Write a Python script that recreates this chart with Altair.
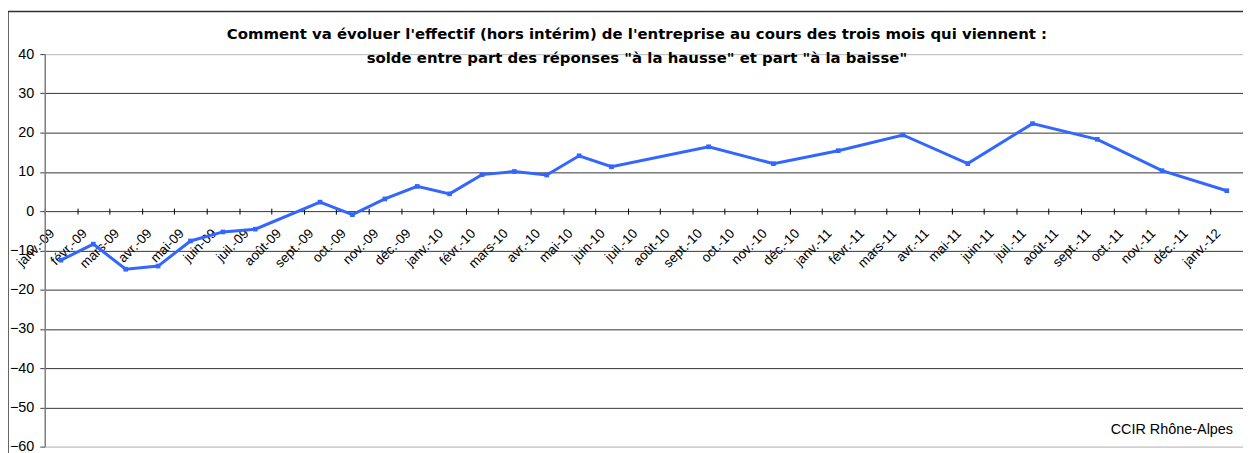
import altair as alt
import pandas as pd

months = [
    "janv.-09", "févr.-09", "mars-09", "avr.-09", "mai-09", "juin-09", "juil.-09", "août-09",
    "sept.-09", "oct.-09", "nov.-09", "déc.-09",
    "janv.-10", "févr.-10", "mars-10", "avr.-10", "mai-10", "juin-10", "juil.-10", "août-10",
    "sept.-10", "oct.-10", "nov.-10", "déc.-10",
    "janv.-11", "févr.-11", "mars-11", "avr.-11", "mai-11", "juin-11", "juil.-11", "août-11",
    "sept.-11", "oct.-11", "nov.-11", "déc.-11",
    "janv.-12",
]
solde = [
    -12.5, -8.4, -14.8, -14.0, -7.6, -5.3, -4.6, None,
    2.3, -0.9, 3.1, 6.3,
    4.4, 9.3, 10.1, 9.2, 14.1, 11.3, None, None,
    16.4, None, 12.1, None,
    15.4, None, 19.4, None, 12.1, None, 22.3, None,
    18.3, None, 10.3, None,
    5.2,
]
y_ticks = [-60, -50, -40, -30, -20, -10, 0, 10, 20, 30, 40]
title_lines = [
    "Comment va évoluer l'effectif  (hors intérim) de l'entreprise au cours des trois mois qui viennent :",
    "solde entre part des réponses \"à la hausse\" et part \"à la baisse\"",
]
source_text = ["CCIR Rhône-Alpes"]

W = 1206
H = 395
FONT = "Liberation Sans"
BLUE = "#3366FF"

df = pd.DataFrame({"mois": months, "solde": solde}).dropna()

x_enc = alt.X(
    "mois:N",
    sort=months,
    scale=alt.Scale(domain=months, paddingInner=0, paddingOuter=0),
    axis=alt.Axis(
        title=None,
        orient="bottom",
        offset=-240,
        domain=False,
        ticks=True,
        tickBand="extent",
        tickSize=6,
        tickColor="#000000",
        grid=False,
        labelAngle=-45,
        labelAlign="right",
        labelBaseline="middle",
        labelOffset=-9,
        labelPadding=17,
        labelFont=FONT,
        labelFontSize=13.5,
        labelColor="#000000",
        labelOverlap=False,
        labelFlush=False,
        labelBound=False,
    ),
)

y_enc = alt.Y(
    "solde:Q",
    scale=alt.Scale(domain=[-60, 40], nice=False, zero=False),
    axis=alt.Axis(
        title=None,
        values=y_ticks,
        domain=True,
        domainColor="#808080",
        domainWidth=1.5,
        ticks=True,
        tickSize=5,
        tickColor="#404040",
        labelFont=FONT,
        labelFontSize=14.5,
        labelColor="#000000",
        labelPadding=6,
        grid=True,
        gridColor=alt.condition(
            "datum.value == 40 || datum.value == -60",
            alt.value("#c0c0c0"),
            alt.value("#333333"),
        ),
        gridWidth=1,
    ),
)

line = alt.Chart(df).mark_line(
    color=BLUE,
    strokeWidth=3,
    point=alt.OverlayMarkDef(shape="square", size=22, filled=True, color=BLUE),
).encode(x=x_enc, y=y_enc)

one = pd.DataFrame({"t": source_text})

frame_left = alt.Chart(one).mark_rule(color="#303030", strokeWidth=1.5).encode(
    x=alt.value(-37), y=alt.value(-43), y2=alt.value(H + 10)
)
frame_top = alt.Chart(one).mark_rule(color="#303030", strokeWidth=1.5).encode(
    x=alt.value(-37), x2=alt.value(W + 10), y=alt.value(-43)
)
source = alt.Chart(one).mark_text(
    align="right", baseline="middle", font=FONT, fontSize=14.5, color="#000000"
).encode(x=alt.value(1196), y=alt.value(378), text="t:N")

chart = alt.layer(line, frame_left, frame_top, source).properties(
    width=W,
    height=H,
    title=alt.TitleParams(
        text=title_lines,
        font="DejaVu Sans",
        fontSize=15,
        fontWeight="bold",
        color="#000000",
        anchor="middle",
        baseline="bottom",
        lineHeight=24,
        offset=0,
        dy=71,
        dx=-7,
    ),
    autosize=alt.AutoSizeParams(type="none"),
    padding={"left": 37, "top": 45, "right": 0, "bottom": 5},
).configure_view(stroke=None).configure(background="#ffffff")

chart.save("out.html", embed_options={"renderer": "svg", "actions": False})
